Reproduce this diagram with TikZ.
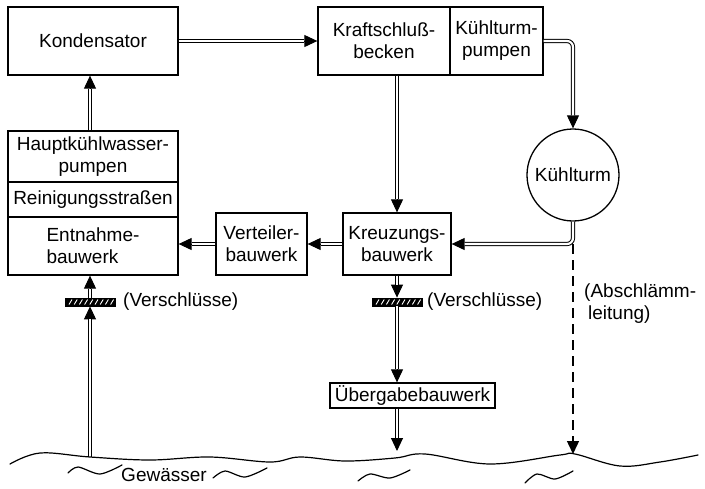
\documentclass[tikz,border=0pt]{standalone}
\usepackage{fontspec}
\setmainfont{Liberation Sans}
\usetikzlibrary{arrows.meta}
\newcommand{\pipeto}[2][]{\draw[pipeunder,#1] #2; \draw[pipe,#1] #2;}
\begin{document}
\begin{tikzpicture}[x=1pt,y=-1pt,
  box/.style={draw, line width=1.3pt, inner sep=0pt, align=center,
    font=\fontsize{19}{22}\selectfont},
  pipeunder/.style={draw, line width=1pt, -{Triangle[length=13pt,width=12pt]}},
  pipe/.style={draw, double, double distance=2.2pt, line width=1pt, shorten >=13pt},
  gate/.style={draw, fill=black, line width=0.8pt, minimum width=50pt,
    minimum height=8pt, inner sep=0pt,
    path picture={\foreach \i in {0,...,8}{\draw[white,line width=0.9pt]
      ([xshift=\i*5.2pt+4pt,yshift=1.5pt]path picture bounding box.south west) -- ++(3pt,5pt);}}},
  lbl/.style={font=\fontsize{19}{22}\selectfont, inner sep=0pt},
  water/.style={line width=1.2pt, line cap=round}
]
\useasboundingbox (0,0) rectangle (705,488);

% boxes
\node[box, minimum width=170pt, minimum height=68pt] (kond) at (93,41) {Kondensator};
\node[box, minimum width=132pt, minimum height=68pt] (kraft) at (384,41) {Kraftschluß-\\becken};
\node[box, minimum width=93pt, minimum height=68pt] (kpump) at (496.5,41) {Kühlturm-\\pumpen};
\node[box, circle, minimum size=92pt] (kturm) at (573,175) {Kühlturm};
\node[box, minimum width=108pt, minimum height=62pt] (kreuz) at (397,244) {Kreuzungs-\\bauwerk};
\node[box, minimum width=91pt, minimum height=62pt] (vert) at (261.5,244) {Verteiler-\\bauwerk};
\node[box, minimum width=170pt, minimum height=51pt] (hkp) at (93,156.5) {Hauptkühlwasser-\\pumpen\hspace{18pt}};
\node[box, minimum width=170pt, minimum height=35pt] (rein) at (93,199.5) {Reinigungsstraßen};
\node[box, minimum width=170pt, minimum height=58pt, align=left] (entn) at (93,246) {Entnahme-\\bauwerk};
\node[box, minimum width=165pt, minimum height=25pt] (ueb) at (412.5,395.5) {Übergabebauwerk};

% gates
\node[gate] (gl) at (90,302) {};
\node[gate] (gm) at (397,302) {};
\node[lbl, anchor=west] at (123,302) {(Verschlüsse)};
\node[lbl, anchor=west] at (427,302) {(Verschlüsse)};
\node[lbl, anchor=north west, align=left] at (584,284) {(Abschlämm-\\\hspace{4pt}leitung)};

% water coordinates
\coordinate (w1) at (90,457);
\coordinate (w2) at (397,451);
\coordinate (w3) at (573,454);
\coordinate (c1) at (573,244);

% connectors
\pipeto{(kond.east) -- (kraft.west)}
\pipeto{([xshift=-3pt]hkp.north) -- ([xshift=-3pt]kond.south)}
\pipeto{(kreuz.north |- kraft.south) -- (kreuz.north)}
\pipeto[rounded corners=6pt]{(kpump.east) -| (kturm.north)}
\pipeto[rounded corners=6pt]{(kturm.south) |- (kreuz.east)}
\pipeto{(kreuz.west) -- (vert.east)}
\pipeto{(vert.west) -- (vert.west -| entn.east)}
\pipeto{(w1) -- (gl.south)}
\pipeto{(gl.north) -- (gl.north |- entn.south)}
\pipeto{(kreuz.south) -- (gm.north)}
\pipeto{(gm.south) -- (gm.south |- ueb.north)}
\pipeto{(ueb.south -| gm.south) -- (w2)}
\draw[line width=1.4pt, dash pattern=on 10pt off 6pt, -{Triangle[length=13pt,width=12pt]}] (c1) -- (w3);

% water
\draw[water] plot[smooth, tension=0.6] coordinates {(10,464) (40,453) (90,457) (150,460) (210,457) (270,462) (300,457) (345,461) (395,458) (425,454) (490,464) (560,455) (575,454) (620,466) (660,462) (698,455)};
\draw[water] plot[smooth] coordinates {(68,473) (78,467) (100,474) (122,465)};
\draw[water] plot[smooth] coordinates {(213,478) (225,471) (245,477) (267,468)};
\draw[water] plot[smooth] coordinates {(358,481) (370,474) (390,478) (410,470)};
\draw[water] plot[smooth] coordinates {(525,483) (537,474) (555,479) (573,471)};
\node[lbl] (gew) at (164,475) {Gewässer};
\end{tikzpicture}
\end{document}
